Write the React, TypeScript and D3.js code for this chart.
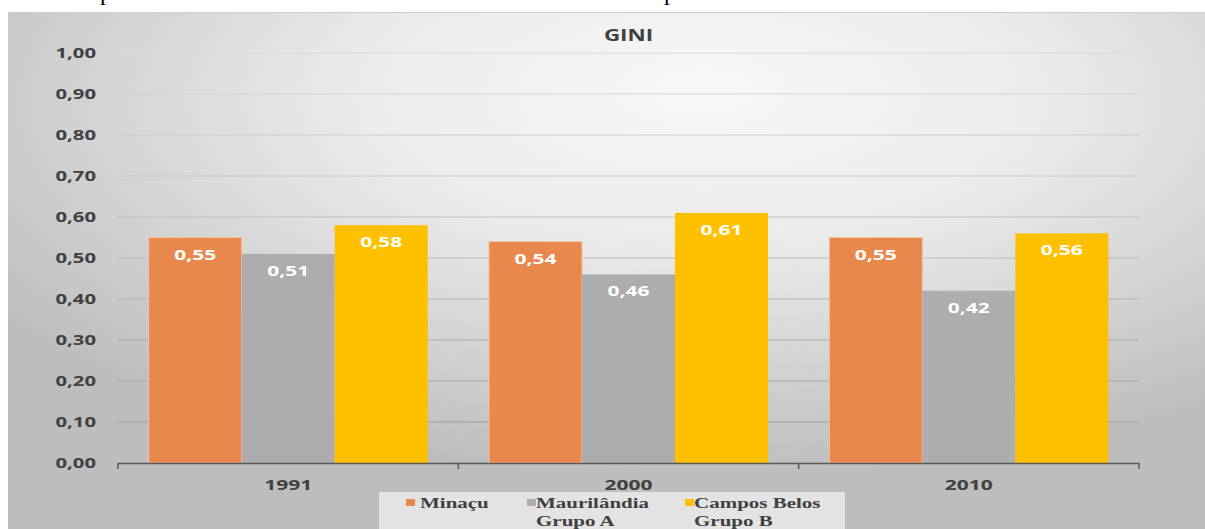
import React from "react";
import * as d3 from "d3";

const categories = ["1991", "2000", "2010"];
const seriesNames = ["Minaçu", "Maurilândia Grupo A", "Campos Belos Grupo B"];
const legendLines = [["Minaçu"], ["Maurilândia", "Grupo A"], ["Campos Belos", "Grupo B"]];
const minacu = [0.55, 0.54, 0.55];
const maurilandia = [0.51, 0.46, 0.42];
const camposBelos = [0.58, 0.61, 0.56];
const yTicks = [0, 0.1, 0.2, 0.3, 0.4, 0.5, 0.6, 0.7, 0.8, 0.9, 1.0];
const colors = ["#E9884C", "#ADADAD", "#FFC000"];
const title = "GINI";

const W = 1205;
const H = 529;
const SX = 1.4;
const sans = "'Open Sans', 'DejaVu Sans', sans-serif";
const serif = "'Liberation Serif', 'Times New Roman', serif";

function fmt(v: number) {
  return v.toFixed(2).replace(".", ",");
}

function T(props: { x: number; y: number; anchor?: string; size: number; fill: string; family: string; weight?: any; children: any }) {
  const { x, y, anchor = "start", size, fill, family, weight = 700, children } = props;
  return (
    <text
      transform={`translate(${x},${y}) scale(${SX},1)`}
      textAnchor={anchor as any}
      fontSize={size}
      fill={fill}
      fontFamily={family}
      fontWeight={weight}
    >
      {children}
    </text>
  );
}

export default function App() {
  const series = [minacu, maurilandia, camposBelos];
  const left = 118;
  const right = 1139;
  const y = d3.scaleLinear().domain([0, 1]).range([463, 53]);
  const x0 = d3.scaleBand<string>().domain(categories).range([left, right]).padding(0);
  const bw = x0.bandwidth();
  const x1 = d3
    .scaleBand<string>()
    .domain(seriesNames)
    .range([bw * 0.09, bw * 0.91])
    .padding(0);
  const gridColor = d3.scaleLinear<string>().domain([1, 0]).range(["#dadada", "#9a9a9a"]);
  const boundaries = [left, ...categories.map((c) => (x0(c) as number) + bw)];

  return (
    <div style={{ position: "absolute", left: 0, top: 0, width: W, height: H, overflow: "hidden" }}>
      <svg width={W} height={H} style={{ display: "block" }}>
        <defs>
          <radialGradient id="bg" cx="58%" cy="18%" r="72%" fx="58%" fy="15%">
            <stop offset="0%" stopColor="#f8f8f8" />
            <stop offset="40%" stopColor="#ebebeb" />
            <stop offset="100%" stopColor="#bdbdbd" />
          </radialGradient>
        </defs>
        <rect x={0} y={0} width={W} height={H} fill="#ffffff" />
        <text x={100} y={0} fontFamily={serif} fontSize={24} fill="#000">p</text>
        <text x={664} y={0} fontFamily={serif} fontSize={24} fill="#000">p</text>
        <rect x={8} y={12} width={W - 8} height={H - 12} fill="url(#bg)" />
        <line x1={8} x2={W} y1={12.5} y2={12.5} stroke="#cfcfcf" />

        <T x={(left + right) / 2} y={41} anchor="middle" size={16} fill="#404040" family={sans}>
          {title}
        </T>

        {yTicks.map((t) => (
          <g key={t}>
            {t > 0 && (
              <line x1={left} x2={right} y1={y(t)} y2={y(t)} stroke={gridColor(t)} strokeWidth={1.2} />
            )}
            <T x={96} y={y(t) + 5} anchor="end" size={14.5} fill="#404040" family={sans}>
              {fmt(t)}
            </T>
          </g>
        ))}

        {categories.map((c, ci) => (
          <g key={c} transform={`translate(${x0(c)},0)`}>
            {series.map((vals, si) => {
              const bx = x1(seriesNames[si]) as number;
              const w = x1.bandwidth();
              return (
                <g key={si}>
                  <rect
                    x={bx}
                    y={y(vals[ci])}
                    width={w}
                    height={y(0) - y(vals[ci])}
                    fill={colors[si]}
                    stroke={si === 0 ? "#f2c2a2" : "none"}
                    strokeWidth={1}
                  />
                  <T x={bx + w / 2} y={y(vals[ci]) + 22} anchor="middle" size={15} fill="#ffffff" family={sans}>
                    {fmt(vals[ci])}
                  </T>
                </g>
              );
            })}
            <T x={bw / 2} y={490} anchor="middle" size={15} fill="#404040" family={sans}>
              {c}
            </T>
          </g>
        ))}

        <line x1={left} x2={right} y1={y(0) + 0.5} y2={y(0) + 0.5} stroke="#595959" strokeWidth={1.5} />
        {boundaries.map((b, i) => (
          <line key={i} x1={b} x2={b} y1={y(0)} y2={y(0) + 6} stroke="#595959" strokeWidth={1.5} />
        ))}

        <rect x={379} y={492} width={466} height={40} fill="#e3e3e3" />
        {legendLines.map((lines, i) => {
          const xs = [406, 527, 685];
          return (
            <g key={i}>
              <rect x={xs[i]} y={499} width={9} height={7} fill={colors[i]} />
              {lines.map((ln, li) => (
                <T key={li} x={xs[i] + (i === 0 ? 14 : 9)} y={508 + li * 18} size={15} fill="#404040" family={serif}>
                  {ln}
                </T>
              ))}
            </g>
          );
        })}
      </svg>
    </div>
  );
}
